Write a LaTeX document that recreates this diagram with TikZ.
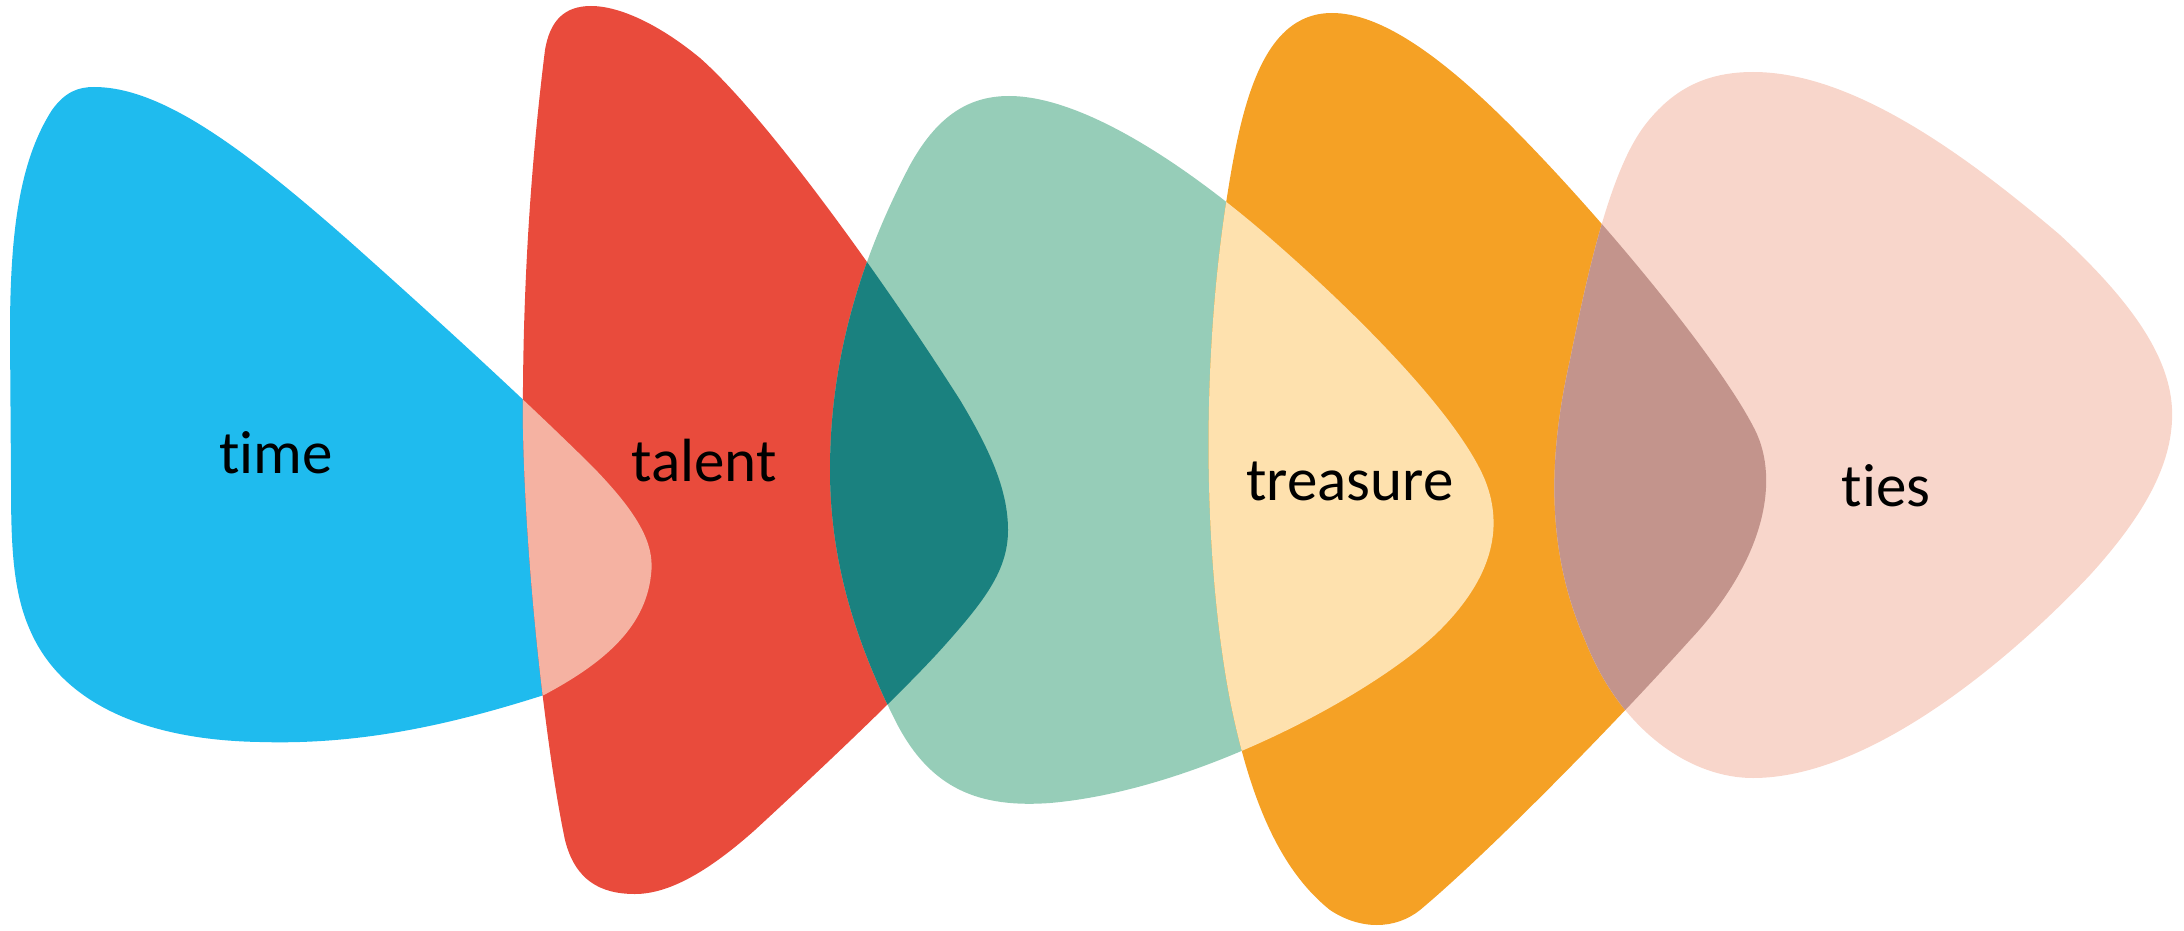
\documentclass[tikz,border=0pt]{standalone}
\usepackage{fontspec}
\setmainfont{Carlito}[Ligatures=NoCommon]
\definecolor{cB}{HTML}{1FBBEE}
\definecolor{cR}{HTML}{E94B3C}
\definecolor{cG}{HTML}{96CDB8}
\definecolor{cO}{HTML}{F5A125}
\definecolor{cP}{HTML}{F8D6CB}
\definecolor{cBR}{HTML}{F5B2A2}
\definecolor{cRG}{HTML}{1A817F}
\definecolor{cGO}{HTML}{FEE1AE}
\definecolor{cOP}{HTML}{C3948C}
\def\blobB{(94,87) .. controls (160,87) and (240,145) .. (348,240)
  .. controls (430,313) and (520,395) .. (591,465)
  .. controls (640,515) and (655,545) .. (651,575)
  .. controls (645,630) and (600,665) .. (544,695)
  .. controls (450,725) and (360,745) .. (260,742)
  .. controls (140,740) and (60,700) .. (30,630)
  .. controls (12,590) and (11,540) .. (11,480)
  -- (10,333)
  .. controls (10,230) and (20,160) .. (52,110)
  .. controls (65,92) and (78,87) .. (94,87) -- cycle}
\def\blobR{(591,6) .. controls (565,6) and (550,20) .. (545,50)
  .. controls (530,170) and (522,300) .. (523,430)
  .. controls (526,580) and (548,760) .. (565,840)
  .. controls (575,880) and (600,894) .. (635,894)
  .. controls (670,894) and (710,870) .. (755,830)
  .. controls (820,770) and (905,690) .. (945,645)
  .. controls (985,600) and (1008,570) .. (1008,530)
  .. controls (1008,490) and (990,450) .. (960,400)
  .. controls (890,290) and (770,120) .. (700,58)
  .. controls (660,25) and (620,6) .. (591,6) -- cycle}
\def\blobG{(1009,96) .. controls (1080,96) and (1180,160) .. (1270,238)
  .. controls (1370,325) and (1460,420) .. (1485,480)
  .. controls (1505,530) and (1490,580) .. (1440,630)
  .. controls (1380,690) and (1200,790) .. (1050,803)
  .. controls (980,808) and (930,790) .. (895,720)
  .. controls (855,640) and (830,560) .. (830,470)
  .. controls (830,360) and (860,260) .. (910,165)
  .. controls (935,120) and (965,96) .. (1009,96) -- cycle}
\def\blobO{(1332,13) .. controls (1380,13) and (1440,55) .. (1510,125)
  .. controls (1600,215) and (1720,360) .. (1755,430)
  .. controls (1780,480) and (1765,560) .. (1690,640)
  .. controls (1600,740) and (1480,860) .. (1420,910)
  .. controls (1395,930) and (1360,930) .. (1330,910)
  .. controls (1280,870) and (1250,800) .. (1230,700)
  .. controls (1205,570) and (1200,380) .. (1225,210)
  .. controls (1240,110) and (1260,13) .. (1332,13) -- cycle}
\def\blobP{(1753,72) .. controls (1850,72) and (1960,150) .. (2060,235)
  .. controls (2130,300) and (2175,360) .. (2172,420)
  .. controls (2170,470) and (2140,520) .. (2090,575)
  .. controls (2010,660) and (1870,778) .. (1753,778)
  .. controls (1690,778) and (1620,730) .. (1585,640)
  .. controls (1550,560) and (1545,470) .. (1570,360)
  .. controls (1590,260) and (1612,168) .. (1645,125)
  .. controls (1672,90) and (1705,72) .. (1753,72) -- cycle}
\begin{document}
\begin{tikzpicture}[x=1pt,y=-1pt,
  lbl/.style={anchor=base,inner sep=0pt,font=\fontsize{61}{70}\selectfont,text=black}]
\useasboundingbox (0,0) rectangle (2184,931);
\fill[cB] \blobB;
\fill[cR] \blobR;
\fill[cG] \blobG;
\fill[cO] \blobO;
\fill[cP] \blobP;
\begin{scope}\clip \blobB; \fill[cBR] \blobR; \end{scope}
\begin{scope}\clip \blobR; \fill[cRG] \blobG; \end{scope}
\begin{scope}\clip \blobG; \fill[cGO] \blobO; \end{scope}
\begin{scope}\clip \blobO; \fill[cOP] \blobP; \end{scope}
\node[lbl] (time) at (276,473) {time};
\node[lbl] (talent) at (704,481) {talent};
\node[lbl] (treasure) at (1350,500) {treasure};
\node[lbl] (ties) at (1886,506) {ties};
\end{tikzpicture}
\end{document}
